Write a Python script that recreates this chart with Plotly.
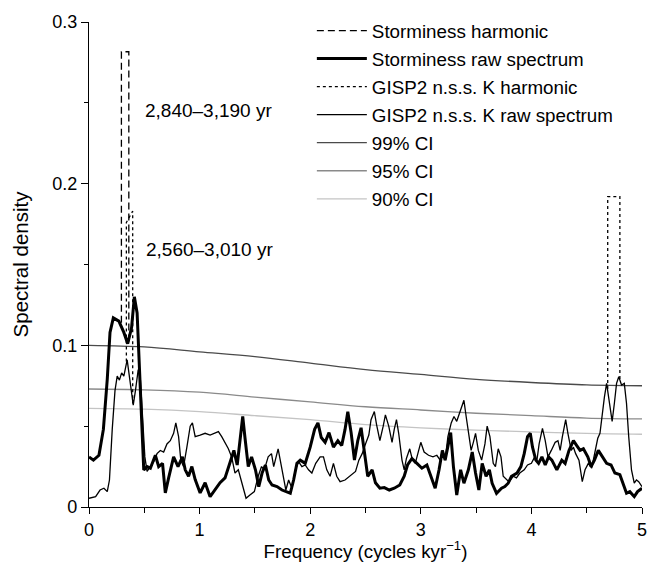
import plotly.graph_objects as go

# ---------------- data ----------------
storm_freq = [0, 0.04, 0.09, 0.13, 0.165, 0.19, 0.22, 0.27, 0.315, 0.35, 0.385, 0.41, 0.435, 0.455, 0.475, 0.495,
              0.525, 0.555, 0.6, 0.63, 0.665, 0.69, 0.72, 0.765, 0.805, 0.845, 0.87, 0.9, 0.93, 0.96, 1.005, 1.05,
              1.095, 1.14, 1.185, 1.23, 1.275, 1.31, 1.34, 1.37, 1.39, 1.41, 1.44, 1.47, 1.505, 1.535, 1.565, 1.595,
              1.625, 1.655, 1.70, 1.745, 1.79, 1.82, 1.85, 1.88, 1.91, 1.955, 2.0, 2.04, 2.07, 2.10, 2.135, 2.17,
              2.21, 2.25, 2.285, 2.315, 2.34, 2.37, 2.40, 2.43, 2.46, 2.49, 2.52, 2.56, 2.59, 2.63, 2.67, 2.715,
              2.76, 2.81, 2.85, 2.88, 2.92, 2.965, 3.01, 3.055, 3.09, 3.13, 3.165, 3.195, 3.22, 3.25, 3.27, 3.295,
              3.325, 3.36, 3.39, 3.43, 3.465, 3.495, 3.525, 3.555, 3.59, 3.62, 3.645, 3.685, 3.73, 3.76, 3.79, 3.82,
              3.87, 3.905, 3.935, 3.965, 3.99, 4.01, 4.04, 4.065, 4.095, 4.125, 4.155, 4.185, 4.23, 4.275, 4.305,
              4.34, 4.38, 4.41, 4.44, 4.47, 4.51, 4.54, 4.57, 4.605, 4.64, 4.68, 4.72, 4.755, 4.80, 4.83, 4.86,
              4.89, 4.93, 4.96, 5.0]
storm_raw = [0.031, 0.029, 0.032, 0.048, 0.079, 0.108, 0.117, 0.115, 0.108, 0.101, 0.111, 0.130, 0.120, 0.089, 0.058,
             0.023, 0.025, 0.024, 0.032, 0.025, 0.027, 0.0087, 0.018, 0.031, 0.025, 0.031, 0.023, 0.019, 0.025, 0.017,
             0.0087, 0.015, 0.0064, 0.0105, 0.015, 0.018, 0.027, 0.035, 0.026, 0.043, 0.056, 0.043, 0.025, 0.031,
             0.023, 0.0126, 0.021, 0.026, 0.0167, 0.0136, 0.0126, 0.0105, 0.0095, 0.0085, 0.0167, 0.027, 0.029,
             0.027, 0.037, 0.048, 0.052, 0.043, 0.040, 0.046, 0.037, 0.041, 0.038, 0.048, 0.059, 0.046, 0.029,
             0.041, 0.049, 0.035, 0.019, 0.023, 0.015, 0.0116, 0.012, 0.0105, 0.0116, 0.0136, 0.019, 0.026, 0.030,
             0.027, 0.024, 0.026, 0.019, 0.0116, 0.023, 0.035, 0.029, 0.039, 0.046, 0.025, 0.0074, 0.023, 0.0147,
             0.023, 0.034, 0.021, 0.0105, 0.027, 0.019, 0.023, 0.0147, 0.0085, 0.0116, 0.0126, 0.0147, 0.019,
             0.021, 0.025, 0.033, 0.0435, 0.0456, 0.037, 0.029, 0.027, 0.031, 0.026, 0.031, 0.029, 0.023, 0.029,
             0.027, 0.035, 0.041, 0.038, 0.035, 0.036, 0.031, 0.025, 0.029, 0.035, 0.031, 0.027, 0.026, 0.021,
             0.020, 0.0147, 0.0085, 0.0095, 0.0064, 0.0095, 0.0116]

gisp_freq = [0, 0.06, 0.10, 0.135, 0.165, 0.185, 0.21, 0.235, 0.255, 0.275, 0.295, 0.315, 0.345, 0.37, 0.40, 0.42,
             0.445, 0.465, 0.485, 0.505, 0.525, 0.555, 0.585, 0.615, 0.645, 0.675, 0.705, 0.735, 0.765, 0.785, 0.81,
             0.83, 0.855, 0.885, 0.915, 0.935, 0.96, 1.005, 1.05, 1.095, 1.14, 1.17, 1.20, 1.23, 1.26, 1.29, 1.32,
             1.35, 1.385, 1.42, 1.455, 1.495, 1.53, 1.56, 1.585, 1.62, 1.65, 1.67, 1.71, 1.73, 1.76, 1.78, 1.805,
             1.835, 1.865, 1.895, 1.925, 1.955, 1.985, 2.015, 2.05, 2.09, 2.12, 2.15, 2.18, 2.21, 2.24, 2.27, 2.315,
             2.36, 2.41, 2.44, 2.47, 2.50, 2.53, 2.55, 2.58, 2.60, 2.63, 2.66, 2.68, 2.71, 2.74, 2.76, 2.78, 2.80,
             2.83, 2.85, 2.87, 2.90, 2.925, 2.95, 2.98, 3.00, 3.03, 3.07, 3.11, 3.145, 3.175, 3.195, 3.22, 3.245,
             3.275, 3.30, 3.325, 3.35, 3.375, 3.39, 3.41, 3.435, 3.455, 3.475, 3.495, 3.52, 3.55, 3.58, 3.60, 3.625,
             3.655, 3.675, 3.70, 3.725, 3.745, 3.78, 3.80, 3.835, 3.865, 3.895, 3.935, 3.965, 4.00, 4.03, 4.05, 4.07,
             4.10, 4.125, 4.15, 4.18, 4.215, 4.24, 4.26, 4.28, 4.31, 4.33, 4.36, 4.38, 4.40, 4.43, 4.46, 4.485,
             4.515, 4.545, 4.575, 4.60, 4.62, 4.64, 4.66, 4.68, 4.70, 4.73, 4.75, 4.77, 4.79, 4.815, 4.84, 4.86,
             4.88, 4.905, 4.93, 4.95, 4.97, 5.0]
gisp_raw = [0.0054, 0.0064, 0.0105, 0.0116, 0.0095, 0.0167, 0.048, 0.072, 0.081, 0.0785, 0.083, 0.081, 0.091, 0.0785,
            0.063, 0.072, 0.085, 0.0785, 0.054, 0.031, 0.022, 0.025, 0.028, 0.033, 0.035, 0.034, 0.039, 0.041, 0.0456,
            0.052, 0.0435, 0.029, 0.025, 0.037, 0.050, 0.052, 0.0435, 0.0445, 0.0456, 0.0445, 0.0456, 0.0466, 0.0435,
            0.040, 0.036, 0.031, 0.021, 0.023, 0.0147, 0.0054, 0.0074, 0.0095, 0.019, 0.025, 0.023, 0.031, 0.033,
            0.025, 0.036, 0.028, 0.0167, 0.0105, 0.0167, 0.0116, 0.023, 0.028, 0.025, 0.026, 0.023, 0.021, 0.027,
            0.031, 0.031, 0.023, 0.019, 0.027, 0.019, 0.0157, 0.0167, 0.019, 0.022, 0.029, 0.033, 0.039, 0.0445,
            0.054, 0.059, 0.051, 0.041, 0.050, 0.057, 0.050, 0.040, 0.048, 0.054, 0.0456, 0.029, 0.023, 0.030,
            0.036, 0.029, 0.027, 0.035, 0.040, 0.034, 0.032, 0.031, 0.032, 0.029, 0.035, 0.029, 0.0435, 0.052,
            0.056, 0.053, 0.058, 0.064, 0.066, 0.056, 0.0435, 0.035, 0.040, 0.0456, 0.035, 0.029, 0.039, 0.050,
            0.0435, 0.027, 0.025, 0.036, 0.031, 0.019, 0.0167, 0.0157, 0.019, 0.018, 0.021, 0.023, 0.026, 0.027,
            0.031, 0.029, 0.039, 0.0487, 0.041, 0.031, 0.035, 0.040, 0.041, 0.035, 0.0435, 0.054, 0.0456, 0.035,
            0.037, 0.033, 0.029, 0.0157, 0.023, 0.027, 0.024, 0.035, 0.0425, 0.0456, 0.058, 0.068, 0.0765, 0.066,
            0.053, 0.064, 0.0765, 0.0806, 0.0755, 0.0765, 0.064, 0.0435, 0.023, 0.0147, 0.0167, 0.0157, 0.0126]

# harmonic peaks (spectral lines found by harmonic analysis)
storm_harm_freq = [0.293, 0.293, 0.36, 0.36]
storm_harm_val = [0.114, 0.2816, 0.2816, 0.102]
gisp_harm_freq = [0.338, 0.338, 0.395, 0.395, None, 4.69, 4.69, 4.80, 4.80]
gisp_harm_val = [0.090, 0.176, 0.183, 0.064, None, 0.073, 0.192, 0.192, 0.079]

# confidence levels
ci_freq = [0, 0.5, 1.0, 1.5, 2.0, 2.5, 3.0, 3.5, 4.0, 4.5, 5.0]
ci99 = [0.100, 0.099, 0.096, 0.093, 0.089, 0.085, 0.082, 0.079, 0.077, 0.0755, 0.075]
ci95 = [0.073, 0.0725, 0.071, 0.068, 0.065, 0.062, 0.060, 0.058, 0.0565, 0.055, 0.0545]
ci90 = [0.061, 0.0605, 0.059, 0.0565, 0.054, 0.051, 0.049, 0.0475, 0.0465, 0.0455, 0.045]

y_tickvals = [0, 0.1, 0.2, 0.3]
y_ticktext = ["0", "0.1", "0.2", "0.3"]
x_tickvals = [0, 1, 2, 3, 4, 5]

period_labels = ["2,840\u20133,190 yr", "2,560\u20133,010 yr"]
period_label_pos = [(0.485, 0.245), (0.50, 0.159)]

FONT = "Liberation Sans, Arial, Helvetica, sans-serif"

fig = go.Figure()

fig.add_trace(go.Scatter(x=ci_freq, y=ci99, mode="lines", name="99% CI", line=dict(color="#4a4a4a", width=1.3, shape="spline"), legendrank=5, legendgroup="g5"))
fig.add_trace(go.Scatter(x=ci_freq, y=ci95, mode="lines", name="95% CI", line=dict(color="#8a8a8a", width=1.3, shape="spline"), legendrank=6, legendgroup="g6"))
fig.add_trace(go.Scatter(x=ci_freq, y=ci90, mode="lines", name="90% CI", line=dict(color="#c4c4c4", width=1.3, shape="spline"), legendrank=7, legendgroup="g7"))

fig.add_trace(go.Scatter(x=gisp_freq, y=gisp_raw, mode="lines", name="GISP2 n.s.s. K raw spectrum",
                         line=dict(color="black", width=1.3), legendrank=4, legendgroup="g4"))
fig.add_trace(go.Scatter(x=storm_freq, y=storm_raw, mode="lines", name="Storminess raw spectrum",
                         line=dict(color="black", width=3), legendrank=2, legendgroup="g2"))
fig.add_trace(go.Scatter(x=storm_harm_freq, y=storm_harm_val, mode="lines", name="Storminess harmonic",
                         line=dict(color="black", width=1.3, dash="7px,4px"), legendrank=1, legendgroup="g1"))
fig.add_trace(go.Scatter(x=gisp_harm_freq, y=gisp_harm_val, mode="lines", name="GISP2 n.s.s. K harmonic",
                         line=dict(color="black", width=1.3, dash="3px,3px"), legendrank=3, legendgroup="g3", connectgaps=False))

for txt, (px, py) in zip(period_labels, period_label_pos):
    fig.add_annotation(x=px, y=py, text=txt, showarrow=False, xanchor="left", yanchor="middle",
                       font=dict(size=19, color="black", family=FONT))

fig.update_layout(
    width=655, height=562,
    margin=dict(l=89, r=13, t=22, b=55),
    paper_bgcolor="white", plot_bgcolor="white",
    font=dict(family=FONT, size=18, color="black"),
    showlegend=True,
    legend=dict(x=0.403, y=1.021, xanchor="left", yanchor="top",
                bgcolor="rgba(0,0,0,0)", font=dict(size=18.8, family=FONT), tracegroupgap=0.6, itemwidth=50),
    xaxis=dict(range=[0, 5], tickvals=x_tickvals, showline=True, linecolor="black", linewidth=1.3,
               ticks="outside", ticklen=6, tickwidth=1.3, tickcolor="black", showgrid=False, zeroline=False,
               automargin=False,
               minor=dict(dtick=0.5, ticks="outside", ticklen=5, tickwidth=1.2, tickcolor="black", showgrid=False),
               tickfont=dict(size=18),
               title=dict(text="Frequency (cycles kyr<sup>\u22121</sup>)", font=dict(size=18.8), standoff=8)),
    yaxis=dict(range=[0, 0.3], tickvals=y_tickvals, ticktext=y_ticktext, showline=True, linecolor="black",
               linewidth=1.3, ticks="outside", ticklen=7, tickwidth=1.3, tickcolor="black", showgrid=False,
               zeroline=False, automargin=False,
               minor=dict(dtick=0.05, ticks="outside", ticklen=4, tickwidth=1.2, tickcolor="black", showgrid=False),
               tickfont=dict(size=18),
               title=dict(text="Spectral density", font=dict(size=20.5), standoff=18)),
)

fig.write_html("out.html", config={"displayModeBar": False},
               post_script="document.body.style.margin='0px';document.body.style.overflow='hidden';")
